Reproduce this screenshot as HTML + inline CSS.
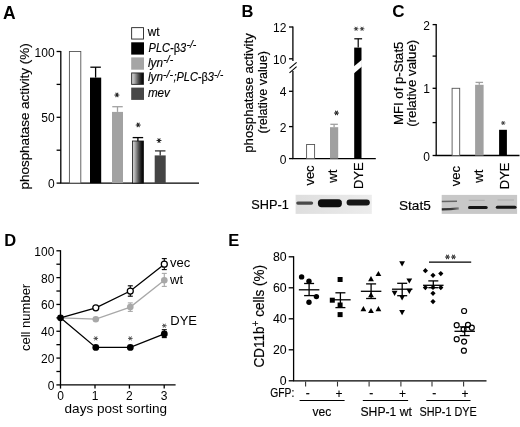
<!DOCTYPE html>
<html><head><meta charset="utf-8"><style>
html,body{margin:0;padding:0;background:#fff;width:520px;height:427px;overflow:hidden}
svg{display:block;font-family:"Liberation Sans", sans-serif;filter:grayscale(1)}
</style></head><body>
<svg width="520" height="427" viewBox="0 0 520 427">
<rect width="520" height="427" fill="#fff"/>
<defs>
<linearGradient id="g1" x1="0" x2="1" y1="0" y2="0"><stop offset="0" stop-color="#d8d8d8"/><stop offset="0.22" stop-color="#b0b0b0"/><stop offset="0.55" stop-color="#555"/><stop offset="0.8" stop-color="#1a1a1a"/><stop offset="1" stop-color="#000"/></linearGradient>
<filter id="bl" x="-20%" y="-50%" width="140%" height="200%"><feGaussianBlur stdDeviation="0.7"/></filter>
<filter id="bl2" x="-20%" y="-50%" width="140%" height="200%"><feGaussianBlur stdDeviation="0.45"/></filter>
</defs>
<text x="3.00" y="18.60" font-size="17.5" text-anchor="start" font-weight="bold" >A</text>
<text transform="translate(29.2,116.4) rotate(-90)" font-size="13.5" text-anchor="middle" stroke="#000" stroke-width="0.15" textLength="146" lengthAdjust="spacingAndGlyphs">phosphatase activity (%)</text>
<line x1="60.80" y1="50.90" x2="60.80" y2="183.10" stroke="#000" stroke-width="1.3"/>
<line x1="60.20" y1="183.10" x2="199.00" y2="183.10" stroke="#000" stroke-width="1.3"/>
<line x1="56.60" y1="183.10" x2="60.80" y2="183.10" stroke="#000" stroke-width="1.3"/>
<line x1="56.60" y1="150.20" x2="60.80" y2="150.20" stroke="#000" stroke-width="1.3"/>
<line x1="56.60" y1="117.30" x2="60.80" y2="117.30" stroke="#000" stroke-width="1.3"/>
<line x1="56.60" y1="84.40" x2="60.80" y2="84.40" stroke="#000" stroke-width="1.3"/>
<line x1="56.60" y1="51.50" x2="60.80" y2="51.50" stroke="#000" stroke-width="1.3"/>
<text x="54.60" y="188.10" font-size="12" text-anchor="end" >0</text>
<text x="54.60" y="122.30" font-size="12" text-anchor="end" >50</text>
<text x="54.60" y="56.50" font-size="12" text-anchor="end" >100</text>
<rect x="69.40" y="51.50" width="11.40" height="131.60" fill="#fff" stroke="#555" stroke-width="0.9" />
<rect x="90.00" y="77.60" width="11.20" height="105.50" fill="#000" />
<line x1="95.60" y1="77.60" x2="95.60" y2="67.20" stroke="#000" stroke-width="1.3"/>
<line x1="90.35" y1="67.20" x2="100.85" y2="67.20" stroke="#000" stroke-width="1.3"/>
<rect x="112.00" y="111.90" width="11.00" height="71.20" fill="#a2a2a2" />
<line x1="117.50" y1="111.90" x2="117.50" y2="106.70" stroke="#a2a2a2" stroke-width="1.3"/>
<line x1="112.25" y1="106.70" x2="122.75" y2="106.70" stroke="#a2a2a2" stroke-width="1.3"/>
<rect x="132.40" y="141.00" width="11.00" height="42.10" fill="url(#g1)" stroke="#111" stroke-width="0.8" />
<line x1="137.90" y1="141.00" x2="137.90" y2="137.60" stroke="#000" stroke-width="1.3"/>
<line x1="132.65" y1="137.60" x2="143.15" y2="137.60" stroke="#000" stroke-width="1.3"/>
<rect x="154.70" y="155.40" width="11.00" height="27.70" fill="#444" />
<line x1="160.20" y1="155.40" x2="160.20" y2="150.90" stroke="#333" stroke-width="1.3"/>
<line x1="154.95" y1="150.90" x2="165.45" y2="150.90" stroke="#333" stroke-width="1.3"/>
<path d="M114.83 94.90L118.97 94.90M115.87 93.11L117.94 96.69M117.94 93.11L115.87 96.69" stroke="#222" stroke-width="1.03" stroke-linecap="round" fill="none"/>
<path d="M136.13 124.90L140.27 124.90M137.16 123.11L139.23 126.69M139.23 123.11L137.16 126.69" stroke="#222" stroke-width="1.03" stroke-linecap="round" fill="none"/>
<path d="M156.93 140.60L161.07 140.60M157.97 138.81L160.03 142.39M160.03 138.81L157.97 142.39" stroke="#222" stroke-width="1.03" stroke-linecap="round" fill="none"/>
<rect x="131.65" y="27.65" width="11.90" height="11.40" fill="#fff" stroke="#222" stroke-width="0.9" />
<rect x="131.20" y="42.30" width="12.80" height="12.30" fill="#000" />
<rect x="131.20" y="57.40" width="12.80" height="12.30" fill="#a5a5a5" />
<rect x="131.65" y="72.95" width="11.90" height="11.40" fill="url(#g1)" stroke="#222" stroke-width="0.9" />
<rect x="131.20" y="87.60" width="12.80" height="12.30" fill="#474747" />
<text x="147.80" y="36.20" font-size="12" text-anchor="start" stroke="#000" stroke-width="0.15" textLength="11.8" lengthAdjust="spacingAndGlyphs">wt</text>
<text x="148.60" y="51.70" font-size="12" text-anchor="start" stroke="#000" stroke-width="0.15" font-style="italic" textLength="37.6" lengthAdjust="spacingAndGlyphs">PLC-<tspan font-style="normal">β</tspan>3</text>
<text x="186.40" y="48.10" font-size="10" text-anchor="start" stroke="#000" stroke-width="0.15" font-style="italic" textLength="10" lengthAdjust="spacingAndGlyphs">-/-</text>
<text x="148.00" y="66.50" font-size="12" text-anchor="start" stroke="#000" stroke-width="0.15" font-style="italic" textLength="15.0" lengthAdjust="spacingAndGlyphs">lyn</text>
<text x="163.20" y="62.90" font-size="10" text-anchor="start" stroke="#000" stroke-width="0.15" font-style="italic" textLength="10" lengthAdjust="spacingAndGlyphs">-/-</text>
<text x="148.00" y="81.20" font-size="12" text-anchor="start" stroke="#000" stroke-width="0.15" font-style="italic" textLength="15.0" lengthAdjust="spacingAndGlyphs">lyn</text>
<text x="163.00" y="77.60" font-size="10" text-anchor="start" stroke="#000" stroke-width="0.15" font-style="italic" textLength="10" lengthAdjust="spacingAndGlyphs">-/-</text>
<text x="173.40" y="81.20" font-size="12" text-anchor="start" stroke="#000" stroke-width="0.15" font-style="italic" textLength="40.6" lengthAdjust="spacingAndGlyphs">;PLC-<tspan font-style="normal">β</tspan>3</text>
<text x="214.00" y="77.60" font-size="10" text-anchor="start" stroke="#000" stroke-width="0.15" font-style="italic" textLength="9.4" lengthAdjust="spacingAndGlyphs">-/-</text>
<text x="147.90" y="96.90" font-size="12" text-anchor="start" stroke="#000" stroke-width="0.15" font-style="italic" textLength="22.0" lengthAdjust="spacingAndGlyphs">mev</text>
<text x="241.50" y="17.20" font-size="16.5" text-anchor="start" font-weight="bold" >B</text>
<text transform="translate(253.0,93) rotate(-90)" font-size="13.2" text-anchor="middle" stroke="#000" stroke-width="0.18" textLength="119.5" lengthAdjust="spacingAndGlyphs">phosphatase activity</text>
<text transform="translate(266.7,92.3) rotate(-90)" font-size="13.2" text-anchor="middle" stroke="#000" stroke-width="0.18" textLength="82.5" lengthAdjust="spacingAndGlyphs">(relative value)</text>
<line x1="292.90" y1="26.40" x2="292.90" y2="61.00" stroke="#000" stroke-width="1.3"/>
<line x1="292.90" y1="71.00" x2="292.90" y2="158.60" stroke="#000" stroke-width="1.3"/>
<line x1="289.00" y1="27.00" x2="292.90" y2="27.00" stroke="#000" stroke-width="1.3"/>
<line x1="289.00" y1="58.80" x2="292.90" y2="58.80" stroke="#000" stroke-width="1.3"/>
<line x1="289.00" y1="91.30" x2="292.90" y2="91.30" stroke="#000" stroke-width="1.3"/>
<line x1="289.00" y1="126.60" x2="292.90" y2="126.60" stroke="#000" stroke-width="1.3"/>
<line x1="289.00" y1="158.60" x2="292.90" y2="158.60" stroke="#000" stroke-width="1.3"/>
<line x1="289.50" y1="68.40" x2="296.60" y2="62.30" stroke="#000" stroke-width="1.1"/>
<line x1="289.50" y1="72.80" x2="296.60" y2="66.60" stroke="#000" stroke-width="1.1"/>
<text x="286.40" y="32.00" font-size="12" text-anchor="end" >12</text>
<text x="286.40" y="63.80" font-size="12" text-anchor="end" >10</text>
<text x="286.40" y="96.30" font-size="12" text-anchor="end" >4</text>
<text x="286.40" y="131.60" font-size="12" text-anchor="end" >2</text>
<text x="286.40" y="163.60" font-size="12" text-anchor="end" >0</text>
<line x1="292.30" y1="158.60" x2="375.80" y2="158.60" stroke="#000" stroke-width="1.3"/>
<rect x="306.60" y="144.50" width="8.00" height="14.10" fill="#fff" stroke="#555" stroke-width="0.9" />
<rect x="330.00" y="127.20" width="8.20" height="31.40" fill="#a0a0a0" />
<line x1="334.10" y1="127.20" x2="334.10" y2="124.30" stroke="#a0a0a0" stroke-width="1.3"/>
<line x1="330.35" y1="124.30" x2="337.85" y2="124.30" stroke="#a0a0a0" stroke-width="1.3"/>
<rect x="354.20" y="47.60" width="7.30" height="111.00" fill="#000" />
<line x1="358.20" y1="47.60" x2="358.20" y2="38.80" stroke="#000" stroke-width="1.2"/>
<line x1="354.30" y1="38.80" x2="362.10" y2="38.80" stroke="#000" stroke-width="1.2"/>
<polygon points="353.8,66.6 361.9,59.8 361.9,66.6 353.8,73.4" fill="#fff"/>
<path d="M334.43 112.90L338.57 112.90M335.46 111.11L337.54 114.69M337.54 111.11L335.46 114.69" stroke="#222" stroke-width="1.03" stroke-linecap="round" fill="none"/>
<path d="M354.21 28.80L357.99 28.80M355.16 27.16L357.05 30.44M357.05 27.16L355.16 30.44M360.21 28.80L363.99 28.80M361.16 27.16L363.05 30.44M363.05 27.16L361.16 30.44" stroke="#333" stroke-width="0.94" stroke-linecap="round" fill="none"/>
<text transform="translate(314.2,175.5) rotate(-90)" font-size="13" text-anchor="middle" stroke="#000" stroke-width="0.18" >vec</text>
<text transform="translate(337.3,176.2) rotate(-90)" font-size="13" text-anchor="middle" stroke="#000" stroke-width="0.18" >wt</text>
<text transform="translate(362.7,175.7) rotate(-90)" font-size="13" text-anchor="middle" stroke="#000" stroke-width="0.18" >DYE</text>
<linearGradient id="bg1" x1="0" x2="1" y1="0" y2="0"><stop offset="0" stop-color="#dedede"/><stop offset="1" stop-color="#ececec"/></linearGradient>
<rect x="295.60" y="194.80" width="76.20" height="19.10" fill="url(#bg1)" />
<g filter="url(#bl)">
<rect x="296.20" y="201.40" width="17.00" height="3.30" fill="#4a4a4a" rx="1.7"/>
<rect x="317.90" y="199.30" width="24.00" height="7.90" fill="#0a0a0a" rx="3.6"/>
<rect x="346.60" y="199.60" width="23.20" height="5.90" fill="#141414" rx="2.9"/>
</g>
<text x="251.30" y="208.80" font-size="13" text-anchor="start" stroke="#000" stroke-width="0.18" textLength="37.5" lengthAdjust="spacingAndGlyphs">SHP-1</text>
<text x="392.30" y="16.60" font-size="17" text-anchor="start" font-weight="bold" >C</text>
<text transform="translate(402.9,83.3) rotate(-90)" font-size="13.2" text-anchor="middle" stroke="#000" stroke-width="0.18" textLength="83.4" lengthAdjust="spacingAndGlyphs">MFI of p-Stat5</text>
<text transform="translate(415.8,83.3) rotate(-90)" font-size="13.2" text-anchor="middle" stroke="#000" stroke-width="0.18" textLength="87" lengthAdjust="spacingAndGlyphs">(relative value)</text>
<line x1="436.20" y1="24.00" x2="436.20" y2="155.50" stroke="#000" stroke-width="1.3"/>
<line x1="432.60" y1="24.60" x2="436.20" y2="24.60" stroke="#000" stroke-width="1.3"/>
<line x1="432.60" y1="56.10" x2="436.20" y2="56.10" stroke="#000" stroke-width="1.3"/>
<line x1="432.60" y1="88.30" x2="436.20" y2="88.30" stroke="#000" stroke-width="1.3"/>
<line x1="432.60" y1="122.60" x2="436.20" y2="122.60" stroke="#000" stroke-width="1.3"/>
<line x1="432.60" y1="155.50" x2="436.20" y2="155.50" stroke="#000" stroke-width="1.3"/>
<text x="430.00" y="29.60" font-size="12" text-anchor="end" >2</text>
<text x="430.00" y="93.30" font-size="12" text-anchor="end" >1</text>
<text x="430.00" y="160.50" font-size="12" text-anchor="end" >0</text>
<line x1="435.60" y1="155.50" x2="519.50" y2="155.50" stroke="#000" stroke-width="1.3"/>
<rect x="452.10" y="88.30" width="7.60" height="67.20" fill="#fff" stroke="#555" stroke-width="0.9" />
<rect x="475.10" y="84.80" width="8.50" height="70.70" fill="#a0a0a0" />
<line x1="479.30" y1="84.80" x2="479.30" y2="82.40" stroke="#a0a0a0" stroke-width="1.3"/>
<line x1="475.55" y1="82.40" x2="483.05" y2="82.40" stroke="#a0a0a0" stroke-width="1.3"/>
<rect x="499.10" y="129.80" width="7.80" height="25.70" fill="#000" />
<path d="M501.40 123.00L505.00 123.00M502.30 121.44L504.10 124.56M504.10 121.44L502.30 124.56" stroke="#333" stroke-width="0.90" stroke-linecap="round" fill="none"/>
<text transform="translate(459.6,176.2) rotate(-90)" font-size="13" text-anchor="middle" stroke="#000" stroke-width="0.18" >vec</text>
<text transform="translate(482.6,176.2) rotate(-90)" font-size="13" text-anchor="middle" stroke="#000" stroke-width="0.18" >wt</text>
<text transform="translate(508.5,175.9) rotate(-90)" font-size="13" text-anchor="middle" stroke="#000" stroke-width="0.18" >DYE</text>
<rect x="441.70" y="194.90" width="75.40" height="19.00" fill="#c8c8c8" />
<g filter="url(#bl2)">
<linearGradient id="lb1" gradientUnits="userSpaceOnUse" x1="441.8" x2="458.8" y1="0" y2="0"><stop offset="0" stop-color="#2c2c2c"/><stop offset="0.6" stop-color="#3c3c3c"/><stop offset="1" stop-color="#808080"/></linearGradient>
<path d="M441.8 201.5 L457 201.3" stroke="#666" stroke-width="1.4" fill="none"/>
<path d="M441.8 209.3 Q450 209.1 458.8 208.3" stroke="url(#lb1)" stroke-width="2.3" fill="none"/>
<path d="M468.7 200.3 L484.8 200.3" stroke="#acacac" stroke-width="1.0" fill="none"/>
<rect x="468.00" y="206.00" width="19.70" height="3.00" fill="#141414" rx="1.5"/>
<path d="M497.5 200.0 L514 200.0" stroke="#aeaeae" stroke-width="1.0" fill="none"/>
<rect x="495.80" y="205.70" width="20.70" height="3.00" fill="#141414" rx="1.5"/>
</g>
<text x="399.00" y="209.50" font-size="13" text-anchor="start" stroke="#000" stroke-width="0.18" textLength="31.8" lengthAdjust="spacingAndGlyphs">Stat5</text>
<text x="4.20" y="245.60" font-size="16.5" text-anchor="start" font-weight="bold" >D</text>
<text transform="translate(30.2,317.4) rotate(-90)" font-size="13" text-anchor="middle" >cell number</text>
<line x1="60.50" y1="250.20" x2="60.50" y2="384.90" stroke="#000" stroke-width="1.3"/>
<line x1="56.40" y1="384.90" x2="60.50" y2="384.90" stroke="#000" stroke-width="1.3"/>
<line x1="56.40" y1="371.49" x2="60.50" y2="371.49" stroke="#000" stroke-width="1.3"/>
<line x1="56.40" y1="358.08" x2="60.50" y2="358.08" stroke="#000" stroke-width="1.3"/>
<line x1="56.40" y1="344.67" x2="60.50" y2="344.67" stroke="#000" stroke-width="1.3"/>
<line x1="56.40" y1="331.26" x2="60.50" y2="331.26" stroke="#000" stroke-width="1.3"/>
<line x1="56.40" y1="317.85" x2="60.50" y2="317.85" stroke="#000" stroke-width="1.3"/>
<line x1="56.40" y1="304.44" x2="60.50" y2="304.44" stroke="#000" stroke-width="1.3"/>
<line x1="56.40" y1="291.03" x2="60.50" y2="291.03" stroke="#000" stroke-width="1.3"/>
<line x1="56.40" y1="277.62" x2="60.50" y2="277.62" stroke="#000" stroke-width="1.3"/>
<line x1="56.40" y1="264.21" x2="60.50" y2="264.21" stroke="#000" stroke-width="1.3"/>
<line x1="56.40" y1="250.80" x2="60.50" y2="250.80" stroke="#000" stroke-width="1.3"/>
<text x="54.40" y="389.90" font-size="12" text-anchor="end" >0</text>
<text x="54.40" y="363.08" font-size="12" text-anchor="end" >20</text>
<text x="54.40" y="336.26" font-size="12" text-anchor="end" >40</text>
<text x="54.40" y="309.44" font-size="12" text-anchor="end" >60</text>
<text x="54.40" y="282.62" font-size="12" text-anchor="end" >80</text>
<text x="54.40" y="255.80" font-size="12" text-anchor="end" >100</text>
<line x1="59.90" y1="384.90" x2="175.60" y2="384.90" stroke="#000" stroke-width="1.3"/>
<line x1="60.50" y1="384.90" x2="60.50" y2="388.60" stroke="#000" stroke-width="1.3"/>
<text x="60.50" y="400.20" font-size="12" text-anchor="middle" >0</text>
<line x1="95.00" y1="384.90" x2="95.00" y2="388.60" stroke="#000" stroke-width="1.3"/>
<text x="95.00" y="400.20" font-size="12" text-anchor="middle" >1</text>
<line x1="129.40" y1="384.90" x2="129.40" y2="388.60" stroke="#000" stroke-width="1.3"/>
<text x="129.40" y="400.20" font-size="12" text-anchor="middle" >2</text>
<line x1="164.20" y1="384.90" x2="164.20" y2="388.60" stroke="#000" stroke-width="1.3"/>
<text x="164.20" y="400.20" font-size="12" text-anchor="middle" >3</text>
<text x="115.80" y="413.40" font-size="13.5" text-anchor="middle" textLength="102.5" lengthAdjust="spacingAndGlyphs">days post sorting</text>
<polyline points="60.5,317.8 95.8,319.2 130.3,307.1 164.3,280.3" fill="none" stroke="#a8a8a8" stroke-width="1.3"/>
<polyline points="60.5,317.8 95.8,307.8 130.3,291.0 164.3,264.2" fill="none" stroke="#000" stroke-width="1.3"/>
<polyline points="60.5,317.8 95.8,347.4 130.3,347.4 164.3,333.9" fill="none" stroke="#000" stroke-width="1.3"/>
<line x1="130.30" y1="285.80" x2="130.30" y2="296.20" stroke="#000" stroke-width="1.1"/>
<line x1="127.80" y1="285.80" x2="132.80" y2="285.80" stroke="#000" stroke-width="1.1"/>
<line x1="127.80" y1="296.20" x2="132.80" y2="296.20" stroke="#000" stroke-width="1.1"/>
<line x1="164.30" y1="258.60" x2="164.30" y2="269.60" stroke="#000" stroke-width="1.1"/>
<line x1="161.80" y1="258.60" x2="166.80" y2="258.60" stroke="#000" stroke-width="1.1"/>
<line x1="161.80" y1="269.60" x2="166.80" y2="269.60" stroke="#000" stroke-width="1.1"/>
<line x1="164.30" y1="273.40" x2="164.30" y2="286.40" stroke="#a8a8a8" stroke-width="1.1"/>
<line x1="161.80" y1="273.40" x2="166.80" y2="273.40" stroke="#a8a8a8" stroke-width="1.1"/>
<line x1="161.80" y1="286.40" x2="166.80" y2="286.40" stroke="#a8a8a8" stroke-width="1.1"/>
<line x1="130.30" y1="302.90" x2="130.30" y2="311.40" stroke="#a8a8a8" stroke-width="1.1"/>
<line x1="127.80" y1="302.90" x2="132.80" y2="302.90" stroke="#a8a8a8" stroke-width="1.1"/>
<line x1="127.80" y1="311.40" x2="132.80" y2="311.40" stroke="#a8a8a8" stroke-width="1.1"/>
<line x1="164.30" y1="329.70" x2="164.30" y2="337.60" stroke="#000" stroke-width="1.1"/>
<line x1="161.80" y1="329.70" x2="166.80" y2="329.70" stroke="#000" stroke-width="1.1"/>
<line x1="161.80" y1="337.60" x2="166.80" y2="337.60" stroke="#000" stroke-width="1.1"/>
<circle cx="95.8" cy="319.2" r="3.3" fill="#a8a8a8"/>
<circle cx="130.3" cy="307.1" r="3.3" fill="#a8a8a8"/>
<circle cx="164.3" cy="280.3" r="3.3" fill="#a8a8a8"/>
<circle cx="95.8" cy="307.8" r="3.0" fill="#fff" stroke="#000" stroke-width="1.25"/>
<circle cx="130.3" cy="291.0" r="3.0" fill="#fff" stroke="#000" stroke-width="1.25"/>
<circle cx="164.3" cy="264.2" r="3.0" fill="#fff" stroke="#000" stroke-width="1.25"/>
<circle cx="60.5" cy="317.8" r="3.4" fill="#000"/>
<circle cx="95.8" cy="347.4" r="3.4" fill="#000"/>
<circle cx="130.3" cy="347.4" r="3.4" fill="#000"/>
<circle cx="164.3" cy="333.9" r="3.4" fill="#000"/>
<path d="M93.91 338.40L97.69 338.40M94.86 336.76L96.74 340.04M96.74 336.76L94.86 340.04" stroke="#444" stroke-width="0.94" stroke-linecap="round" fill="none"/>
<path d="M128.41 338.40L132.19 338.40M129.36 336.76L131.25 340.04M131.25 336.76L129.36 340.04" stroke="#444" stroke-width="0.94" stroke-linecap="round" fill="none"/>
<path d="M162.41 325.70L166.19 325.70M163.36 324.06L165.25 327.34M165.25 324.06L163.36 327.34" stroke="#444" stroke-width="0.94" stroke-linecap="round" fill="none"/>
<text x="170.00" y="267.40" font-size="13" text-anchor="start" >vec</text>
<text x="170.00" y="284.00" font-size="13" text-anchor="start" >wt</text>
<text x="170.30" y="324.70" font-size="13" text-anchor="start" >DYE</text>
<text x="228.30" y="246.20" font-size="16.5" text-anchor="start" font-weight="bold" >E</text>
<text transform="translate(264.4,316.3) rotate(-90)" stroke="#000" stroke-width="0.15" font-size="13.8" text-anchor="middle" textLength="102.6" lengthAdjust="spacingAndGlyphs">CD11b<tspan font-size="10.5" dy="-5.5">+</tspan><tspan dy="5.5"> cells (%)</tspan></text>
<line x1="293.60" y1="256.20" x2="293.60" y2="380.80" stroke="#000" stroke-width="1.3"/>
<line x1="288.70" y1="380.80" x2="293.60" y2="380.80" stroke="#000" stroke-width="1.3"/>
<text x="286.60" y="384.80" font-size="12.3" text-anchor="end" stroke="#000" stroke-width="0.05" >0</text>
<line x1="288.70" y1="349.80" x2="293.60" y2="349.80" stroke="#000" stroke-width="1.3"/>
<text x="286.60" y="353.80" font-size="12.3" text-anchor="end" stroke="#000" stroke-width="0.05" >20</text>
<line x1="288.70" y1="318.80" x2="293.60" y2="318.80" stroke="#000" stroke-width="1.3"/>
<text x="286.60" y="322.80" font-size="12.3" text-anchor="end" stroke="#000" stroke-width="0.05" >40</text>
<line x1="288.70" y1="287.80" x2="293.60" y2="287.80" stroke="#000" stroke-width="1.3"/>
<text x="286.60" y="291.80" font-size="12.3" text-anchor="end" stroke="#000" stroke-width="0.05" >60</text>
<line x1="288.70" y1="256.80" x2="293.60" y2="256.80" stroke="#000" stroke-width="1.3"/>
<text x="286.60" y="260.80" font-size="12.3" text-anchor="end" stroke="#000" stroke-width="0.05" >80</text>
<line x1="293.00" y1="380.80" x2="486.50" y2="380.80" stroke="#000" stroke-width="1.3"/>
<line x1="305.60" y1="381.60" x2="305.60" y2="386.50" stroke="#333" stroke-width="1.1"/>
<line x1="337.50" y1="381.60" x2="337.50" y2="386.50" stroke="#333" stroke-width="1.1"/>
<line x1="369.10" y1="381.60" x2="369.10" y2="386.50" stroke="#333" stroke-width="1.1"/>
<line x1="400.90" y1="381.60" x2="400.90" y2="386.50" stroke="#333" stroke-width="1.1"/>
<line x1="432.00" y1="381.60" x2="432.00" y2="386.50" stroke="#333" stroke-width="1.1"/>
<line x1="463.60" y1="381.60" x2="463.60" y2="386.50" stroke="#333" stroke-width="1.1"/>
<text x="270.30" y="397.00" font-size="12" text-anchor="start" stroke="#000" stroke-width="0.15" textLength="24.0" lengthAdjust="spacingAndGlyphs">GFP:</text>
<text x="307.80" y="397.00" font-size="12" text-anchor="middle" stroke="#000" stroke-width="0.15" >-</text>
<text x="339.00" y="397.60" font-size="12" text-anchor="middle" stroke="#000" stroke-width="0.15" >+</text>
<text x="371.30" y="397.00" font-size="12" text-anchor="middle" stroke="#000" stroke-width="0.15" >-</text>
<text x="402.40" y="397.60" font-size="12" text-anchor="middle" stroke="#000" stroke-width="0.15" >+</text>
<text x="434.20" y="397.00" font-size="12" text-anchor="middle" stroke="#000" stroke-width="0.15" >-</text>
<text x="465.10" y="397.60" font-size="12" text-anchor="middle" stroke="#000" stroke-width="0.15" >+</text>
<line x1="299.60" y1="400.50" x2="344.60" y2="400.50" stroke="#000" stroke-width="1.2"/>
<line x1="362.80" y1="400.50" x2="408.10" y2="400.50" stroke="#000" stroke-width="1.2"/>
<line x1="426.30" y1="400.50" x2="470.50" y2="400.50" stroke="#000" stroke-width="1.2"/>
<text x="321.90" y="415.60" font-size="12.5" text-anchor="middle" stroke="#000" stroke-width="0.15" textLength="18.8" lengthAdjust="spacingAndGlyphs">vec</text>
<text x="386.20" y="415.80" font-size="13" text-anchor="middle" stroke="#000" stroke-width="0.15" textLength="51.5" lengthAdjust="spacingAndGlyphs">SHP-1 wt</text>
<text x="448.20" y="415.80" font-size="13" text-anchor="middle" stroke="#000" stroke-width="0.15" textLength="57.3" lengthAdjust="spacingAndGlyphs">SHP-1 DYE</text>
<circle cx="301.6" cy="276.9" r="2.7" fill="#000"/>
<circle cx="309" cy="281.2" r="2.7" fill="#000"/>
<circle cx="316.4" cy="296.6" r="2.7" fill="#000"/>
<circle cx="309" cy="302.3" r="2.7" fill="#000"/>
<line x1="298.85" y1="289.80" x2="319.35" y2="289.80" stroke="#000" stroke-width="1.3"/>
<line x1="309.10" y1="283.50" x2="309.10" y2="295.60" stroke="#000" stroke-width="1.3"/>
<line x1="304.10" y1="283.50" x2="314.10" y2="283.50" stroke="#000" stroke-width="1.3"/>
<line x1="304.10" y1="295.60" x2="314.10" y2="295.60" stroke="#000" stroke-width="1.3"/>
<rect x="337.60" y="277.00" width="5.00" height="5.00" fill="#000" />
<rect x="329.80" y="297.70" width="5.00" height="5.00" fill="#000" />
<rect x="337.60" y="302.50" width="5.00" height="5.00" fill="#000" />
<rect x="337.60" y="312.10" width="5.00" height="5.00" fill="#000" />
<line x1="330.15" y1="299.80" x2="350.65" y2="299.80" stroke="#000" stroke-width="1.3"/>
<line x1="340.40" y1="292.80" x2="340.40" y2="307.60" stroke="#000" stroke-width="1.3"/>
<line x1="335.40" y1="292.80" x2="345.40" y2="292.80" stroke="#000" stroke-width="1.3"/>
<line x1="335.40" y1="307.60" x2="345.40" y2="307.60" stroke="#000" stroke-width="1.3"/>
<polygon points="378.4,270.90000000000003 381.29999999999995,276.12 375.5,276.12" fill="#000"/>
<polygon points="371,276.1 373.9,281.32 368.1,281.32" fill="#000"/>
<polygon points="371,292.0 373.9,297.21999999999997 368.1,297.21999999999997" fill="#000"/>
<polygon points="363.4,306.1 366.29999999999995,311.32 360.5,311.32" fill="#000"/>
<polygon points="371,307.90000000000003 373.9,313.12 368.1,313.12" fill="#000"/>
<polygon points="378.4,306.1 381.29999999999995,311.32 375.5,311.32" fill="#000"/>
<line x1="360.85" y1="291.30" x2="381.35" y2="291.30" stroke="#000" stroke-width="1.3"/>
<line x1="371.10" y1="283.90" x2="371.10" y2="298.50" stroke="#000" stroke-width="1.3"/>
<line x1="366.10" y1="283.90" x2="376.10" y2="283.90" stroke="#000" stroke-width="1.3"/>
<line x1="366.10" y1="298.50" x2="376.10" y2="298.50" stroke="#000" stroke-width="1.3"/>
<polygon points="402.1,266.4 405.0,261.18 399.20000000000005,261.18" fill="#000"/>
<polygon points="409.3,283.59999999999997 412.2,278.38 406.40000000000003,278.38" fill="#000"/>
<polygon points="394.6,296.0 397.5,290.78000000000003 391.70000000000005,290.78000000000003" fill="#000"/>
<polygon points="409.3,293.9 412.2,288.68 406.40000000000003,288.68" fill="#000"/>
<polygon points="402.1,300.4 405.0,295.18 399.20000000000005,295.18" fill="#000"/>
<polygon points="402.1,315.29999999999995 405.0,310.08 399.20000000000005,310.08" fill="#000"/>
<line x1="391.95" y1="289.20" x2="412.45" y2="289.20" stroke="#000" stroke-width="1.3"/>
<line x1="402.20" y1="283.30" x2="402.20" y2="295.70" stroke="#000" stroke-width="1.3"/>
<line x1="397.20" y1="283.30" x2="407.20" y2="283.30" stroke="#000" stroke-width="1.3"/>
<line x1="397.20" y1="295.70" x2="407.20" y2="295.70" stroke="#000" stroke-width="1.3"/>
<polygon points="425.4,268.09999999999997 428.0,270.7 425.4,273.3 422.79999999999995,270.7" fill="#000"/>
<polygon points="440.8,271.0 443.40000000000003,273.6 440.8,276.20000000000005 438.2,273.6" fill="#000"/>
<polygon points="433,272.7 435.6,275.3 433,277.90000000000003 430.4,275.3" fill="#000"/>
<polygon points="425.4,285.0 428.0,287.6 425.4,290.20000000000005 422.79999999999995,287.6" fill="#000"/>
<polygon points="440.8,285.0 443.40000000000003,287.6 440.8,290.20000000000005 438.2,287.6" fill="#000"/>
<polygon points="433,284.79999999999995 435.6,287.4 433,290.0 430.4,287.4" fill="#000"/>
<polygon points="433,290.7 435.6,293.3 433,295.90000000000003 430.4,293.3" fill="#000"/>
<polygon points="433,299.0 435.6,301.6 433,304.20000000000005 430.4,301.6" fill="#000"/>
<line x1="423.05" y1="285.30" x2="443.55" y2="285.30" stroke="#000" stroke-width="1.3"/>
<line x1="433.30" y1="280.90" x2="433.30" y2="287.70" stroke="#000" stroke-width="1.3"/>
<line x1="428.30" y1="280.90" x2="438.30" y2="280.90" stroke="#000" stroke-width="1.3"/>
<line x1="428.30" y1="287.70" x2="438.30" y2="287.70" stroke="#000" stroke-width="1.3"/>
<circle cx="464.1" cy="311" r="2.5" fill="none" stroke="#000" stroke-width="1.2"/>
<circle cx="456.7" cy="325.2" r="2.5" fill="none" stroke="#000" stroke-width="1.2"/>
<circle cx="468" cy="324.9" r="2.5" fill="none" stroke="#000" stroke-width="1.2"/>
<circle cx="471.8" cy="327.7" r="2.5" fill="none" stroke="#000" stroke-width="1.2"/>
<circle cx="463.6" cy="329.3" r="2.5" fill="none" stroke="#000" stroke-width="1.2"/>
<circle cx="456.7" cy="339.2" r="2.5" fill="none" stroke="#000" stroke-width="1.2"/>
<circle cx="464.1" cy="341.6" r="2.5" fill="none" stroke="#000" stroke-width="1.2"/>
<circle cx="463.9" cy="350.7" r="2.5" fill="none" stroke="#000" stroke-width="1.2"/>
<line x1="454.45" y1="331.30" x2="474.95" y2="331.30" stroke="#000" stroke-width="1.3"/>
<line x1="464.70" y1="326.90" x2="464.70" y2="335.60" stroke="#000" stroke-width="1.3"/>
<line x1="459.70" y1="326.90" x2="469.70" y2="326.90" stroke="#000" stroke-width="1.3"/>
<line x1="459.70" y1="335.60" x2="469.70" y2="335.60" stroke="#000" stroke-width="1.3"/>
<line x1="429.00" y1="262.20" x2="471.20" y2="262.20" stroke="#000" stroke-width="1.3"/>
<path d="M445.43 256.90L449.57 256.90M446.46 255.11L448.54 258.69M448.54 255.11L446.46 258.69M451.43 256.90L455.57 256.90M452.46 255.11L454.54 258.69M454.54 255.11L452.46 258.69" stroke="#333" stroke-width="1.03" stroke-linecap="round" fill="none"/>
</svg>
</body></html>
